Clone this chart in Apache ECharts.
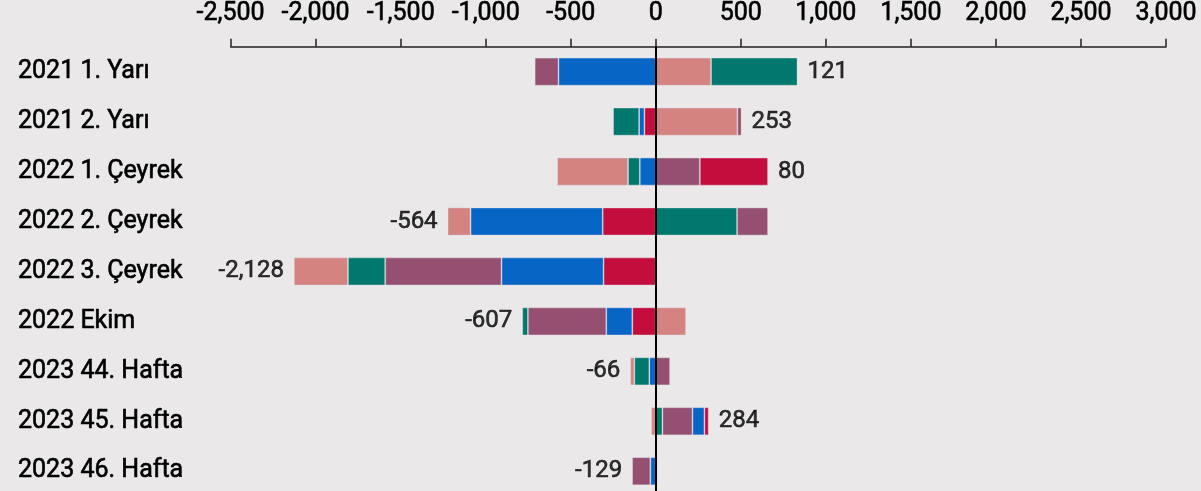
<!DOCTYPE html>
<html>
<head>
<meta charset="utf-8">
<script src="https://cdn.jsdelivr.net/npm/echarts@6/dist/echarts.min.js"></script>
<style>
html,body{margin:0;padding:0;background:#eae8e9;}
#chart{width:1201px;height:491px;}
</style>
</head>
<body>
<div id="chart"></div>
<script>
const categories = ['2021 1. Yarı', '2021 2. Yarı', '2022 1. Çeyrek', '2022 2. Çeyrek', '2022 3. Çeyrek', '2022 Ekim', '2023 44. Hafta', '2023 45. Hafta', '2023 46. Hafta'];
const salmonValues  = [325, 480, -417, -135, -318, 178, -24, -27, 0];
const tealValues    = [508, -153, -69, 478, -219, -33, -88, 39, 10];
const purpleValues  = [-140, 24, 259, 182, -684, -461, 84, 177, -107];
const blueValues    = [-572, -31, -94, -777, -600, -153, -38, 70, -32];
const crimsonValues = [0, -67, 401, -312, -307, -138, 0, 25, 0];
const netTotals = [121, 253, 80, -564, -2128, -607, -66, 284, -129];
const axisTicks = [-2500, -2000, -1500, -1000, -500, 0, 500, 1000, 1500, 2000, 2500, 3000];

const groups = [
  {key: 'salmon', values: salmonValues, color: '#d48381'},
  {key: 'teal', values: tealValues, color: '#00786d'},
  {key: 'purple', values: purpleValues, color: '#944f71'},
  {key: 'blue', values: blueValues, color: '#0665c5'},
  {key: 'crimson', values: crimsonValues, color: '#c20d3d'}
];

const FONT = 'Roboto';
const TEXT = {fontFamily: FONT, fontWeight: 'normal', color: '#000', textBorderColor: '#000', textBorderWidth: 0.6};
const series = [];
groups.forEach(g => {
  series.push({
    name: g.key + '+', type: 'bar', stack: 'total', barWidth: 28,
    data: g.values.map(v => v > 0 ? v : '-'),
    itemStyle: {color: g.color, borderColor: 'rgba(225,225,235,0.55)', borderWidth: 0.8},
    silent: true
  });
});
groups.slice().reverse().forEach(g => {
  series.push({
    name: g.key + '-', type: 'bar', stack: 'total', barWidth: 28,
    data: g.values.map(v => v < 0 ? v : '-'),
    itemStyle: {color: g.color, borderColor: 'rgba(225,225,235,0.55)', borderWidth: 0.8},
    silent: true
  });
});

// zero line
series[0].markLine = {
  silent: true, symbol: ['none', 'none'], animation: false,
  label: {show: false},
  lineStyle: {color: '#000', width: 2, type: 'solid'},
  data: [{xAxis: 0}]
};

// net total labels at stack end
const labelData = categories.map((c, i) => {
  const vals = groups.map(g => g.values[i]);
  const pos = vals.filter(v => v > 0).reduce((a, b) => a + b, 0);
  const neg = vals.filter(v => v < 0).reduce((a, b) => a + b, 0);
  const t = netTotals[i];
  return {
    value: [t >= 0 ? pos : neg, i],
    label: {position: t >= 0 ? 'right' : 'left'}
  };
});
series.push({
  type: 'scatter', symbolSize: 0, silent: true,
  data: labelData,
  label: Object.assign({
    show: true, distance: 10, fontSize: 24,
    formatter: p => netTotals[p.dataIndex].toLocaleString('en-US')
  }, TEXT),
  z: 5
});

const chart = echarts.init(document.getElementById('chart'), null, {renderer: 'canvas'});
chart.setOption({
  backgroundColor: '#eae8e9',
  animation: false,
  grid: {left: 230.6, right: 35, top: 46.7, height: 449.5, containLabel: false, outerBoundsMode: 'none'},
  xAxis: {
    type: 'value', position: 'top',
    min: axisTicks[0], max: axisTicks[axisTicks.length - 1], interval: 500,
    splitLine: {show: false},
    axisLine: {show: true, lineStyle: {color: '#222', width: 1.5}},
    axisTick: {show: true, length: 8, lineStyle: {color: '#222', width: 1.5}},
    axisLabel: Object.assign({
      margin: 20, fontSize: 25,
      formatter: v => v.toLocaleString('en-US')
    }, TEXT)
  },
  yAxis: {
    type: 'category', data: categories, inverse: true,
    axisLine: {show: false}, axisTick: {show: false},
    axisLabel: Object.assign({align: 'left', margin: 212.6, fontSize: 25}, TEXT)
  },
  series: series
});
</script>
</body>
</html>
